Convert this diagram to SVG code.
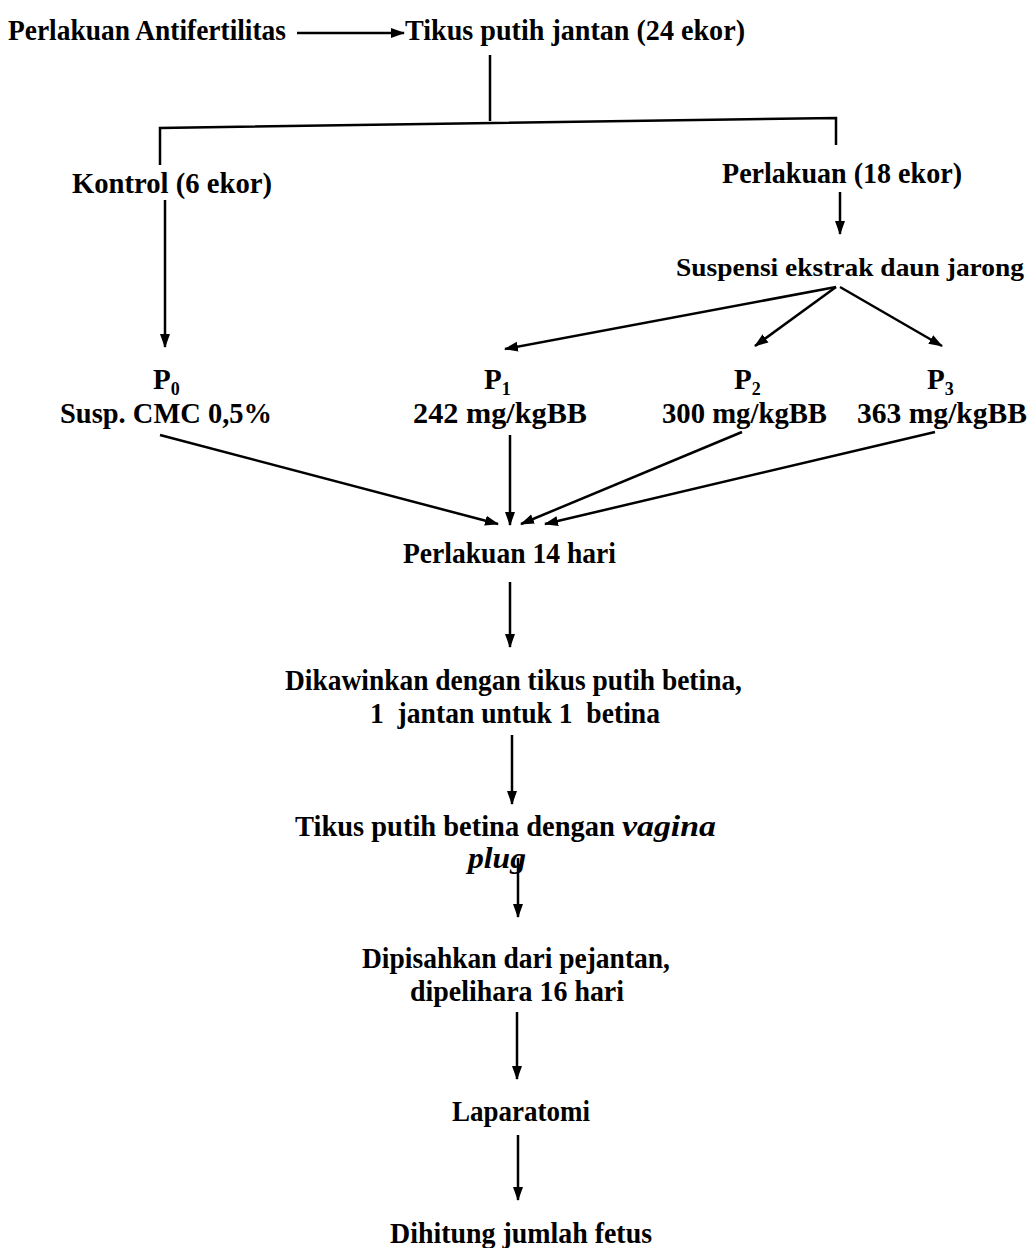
<svg xmlns="http://www.w3.org/2000/svg" width="1035" height="1248" viewBox="0 0 1035 1248">
<defs>
<marker id="ah" markerWidth="14" markerHeight="12" refX="13" refY="6" orient="auto" markerUnits="userSpaceOnUse"><path d="M0,1 L14,6 L0,11 Z" fill="#000"/></marker>
<style>
text{font-family:'Liberation Serif','DejaVu Serif','Times New Roman',serif;font-size:29px;font-weight:bold;fill:#000}
.sub{font-size:18px}
.it{font-style:italic}
.sm{font-size:26px}
.ln{stroke:#000;stroke-width:2.5;fill:none}
.ar{stroke:#000;stroke-width:2.5;fill:none;marker-end:url(#ah)}
</style>
</defs>
<rect width="1035" height="1248" fill="#fff"/>
<g id="connectors">
<line class="ar" x1="297" y1="33" x2="404" y2="33"/>
<line class="ln" x1="490" y1="55" x2="490" y2="121"/>
<polyline class="ln" points="160,165 160,128 836,118 836,145"/>
<line class="ar" x1="165" y1="200" x2="165" y2="347"/>
<line class="ar" x1="840" y1="192" x2="840" y2="234"/>
<line class="ar" x1="836" y1="287" x2="505" y2="349"/>
<line class="ar" x1="836" y1="287" x2="755" y2="346"/>
<line class="ar" x1="840" y1="287" x2="942" y2="346"/>
<line class="ar" x1="160" y1="435" x2="498" y2="524"/>
<line class="ar" x1="510" y1="435" x2="510" y2="525"/>
<line class="ar" x1="742" y1="432" x2="521" y2="524"/>
<line class="ar" x1="935" y1="432" x2="545" y2="524"/>
<line class="ar" x1="510" y1="582" x2="510" y2="647"/>
<line class="ar" x1="512" y1="735" x2="512" y2="804"/>
<line class="ar" x1="518" y1="858" x2="518" y2="917"/>
<line class="ar" x1="517" y1="1012" x2="517" y2="1079"/>
<line class="ar" x1="518" y1="1135" x2="518" y2="1200"/>
</g>
<g id="n-antifertilitas"><text x="8" y="40" textLength="278" lengthAdjust="spacingAndGlyphs">Perlakuan Antifertilitas</text></g>
<g id="n-tikus"><text x="405" y="40" textLength="340" lengthAdjust="spacingAndGlyphs">Tikus putih jantan (24 ekor)</text></g>
<g id="n-kontrol"><text x="72" y="193" textLength="200" lengthAdjust="spacingAndGlyphs">Kontrol (6 ekor)</text></g>
<g id="n-perlakuan18"><text x="722" y="183" textLength="240" lengthAdjust="spacingAndGlyphs">Perlakuan (18 ekor)</text></g>
<g id="n-suspensi"><text class="sm" x="676" y="276" textLength="348" lengthAdjust="spacingAndGlyphs">Suspensi ekstrak daun jarong</text></g>
<g id="n-p0"><text x="153" y="389">P<tspan class="sub" dy="6">0</tspan></text><text x="60" y="423" textLength="212" lengthAdjust="spacingAndGlyphs">Susp. CMC 0,5%</text></g>
<g id="n-p1"><text x="484" y="389">P<tspan class="sub" dy="6">1</tspan></text><text x="413" y="423" textLength="174" lengthAdjust="spacingAndGlyphs">242 mg/kgBB</text></g>
<g id="n-p2"><text x="734" y="389">P<tspan class="sub" dy="6">2</tspan></text><text x="662" y="423" textLength="165" lengthAdjust="spacingAndGlyphs">300 mg/kgBB</text></g>
<g id="n-p3"><text x="927" y="389">P<tspan class="sub" dy="6">3</tspan></text><text x="857" y="423" textLength="170" lengthAdjust="spacingAndGlyphs">363 mg/kgBB</text></g>
<g id="n-14hari"><text x="403" y="563" textLength="213" lengthAdjust="spacingAndGlyphs">Perlakuan 14 hari</text></g>
<g id="n-dikawinkan"><text x="285" y="690" textLength="457" lengthAdjust="spacingAndGlyphs">Dikawinkan dengan tikus putih betina,</text><text x="370" y="723" textLength="290" lengthAdjust="spacingAndGlyphs" xml:space="preserve">1  jantan untuk 1  betina</text></g>
<g id="n-vagina"><text x="295" y="836"><tspan textLength="327" lengthAdjust="spacingAndGlyphs">Tikus putih betina dengan </tspan><tspan class="it" textLength="94" lengthAdjust="spacingAndGlyphs">vagina</tspan></text><text class="it" x="468" y="868" textLength="58" lengthAdjust="spacingAndGlyphs">plug</text></g>
<g id="n-dipisahkan"><text x="362" y="968" textLength="308" lengthAdjust="spacingAndGlyphs">Dipisahkan dari pejantan,</text><text x="410" y="1001" textLength="214" lengthAdjust="spacingAndGlyphs">dipelihara 16 hari</text></g>
<g id="n-laparatomi"><text x="452" y="1121" textLength="138" lengthAdjust="spacingAndGlyphs">Laparatomi</text></g>
<g id="n-fetus"><text x="390" y="1243" textLength="262" lengthAdjust="spacingAndGlyphs">Dihitung jumlah fetus</text></g>
</svg>
